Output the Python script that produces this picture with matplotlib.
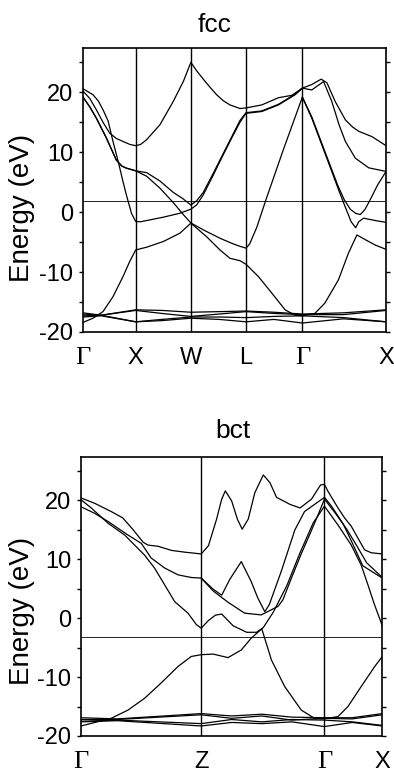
import matplotlib
matplotlib.use("Agg")
import matplotlib.pyplot as plt

plt.rcParams['font.family'] = ['Liberation Sans', 'DejaVu Sans']
plt.rcParams['axes.unicode_minus'] = False

# ---- fcc panel: k-path positions (fraction of path) and bands (s, E in eV)
fcc_kpos = [0.0, 0.174, 0.356, 0.538, 0.724, 1.0]
fcc_klabels = ['Γ', 'X', 'W', 'L', 'Γ', 'X']
fcc_fermi = 1.8

fcc_t = [(0, 20.2), (0.022, 19.0), (0.044, 17.1), (0.066, 15.0), (0.088, 13.2), (0.11, 12.3),
         (0.132, 11.8), (0.155, 11.3), (0.174, 11.1),
         (0.19, 11.3), (0.21, 12.1), (0.254, 14.6), (0.298, 18.5), (0.331, 21.8), (0.356, 25.0),
         (0.375, 23.6), (0.397, 22.2), (0.42, 20.8), (0.441, 19.6), (0.463, 18.6),
         (0.485, 17.9), (0.518, 17.3), (0.538, 17.4),
         (0.59, 17.9), (0.645, 19.1), (0.689, 19.5), (0.724, 20.7),
         (0.755, 21.3), (0.786, 22.2), (0.805, 21.6), (0.832, 18.5), (0.866, 15.4),
         (0.89, 14.2), (0.91, 13.5), (0.954, 12.6), (1.0, 11.1)]
fcc_q = [(0, 20.6), (0.033, 19.6), (0.05, 18.6), (0.066, 17.1), (0.083, 15.2), (0.099, 11.8),
         (0.116, 8.5), (0.132, 5.1), (0.143, 2.9), (0.16, -0.2), (0.174, -1.56), (0.19, -1.6),
         (0.265, -0.84), (0.32, -0.17), (0.356, 0.5), (0.375, 1.2), (0.397, 2.9),
         (0.43, 6.2), (0.46, 9.3), (0.49, 12.3), (0.518, 15.0), (0.538, 16.5),
         (0.59, 16.8), (0.645, 17.9), (0.7, 19.6), (0.724, 20.7), (0.755, 20.4),
         (0.794, 21.8), (0.821, 18.5), (0.845, 14.6), (0.866, 11.8), (0.899, 9.0),
         (0.943, 7.4), (1.0, 6.8)]
fcc_s = [(0, 19.2), (0.022, 17.6), (0.044, 15.7), (0.077, 12.4), (0.11, 8.7), (0.128, 7.7),
         (0.143, 7.35), (0.174, 6.9),
         (0.21, 6.6), (0.254, 5.2), (0.298, 3.3), (0.331, 2.2), (0.356, 1.2), (0.375, 1.9),
         (0.397, 3.3), (0.43, 6.5), (0.46, 9.5), (0.49, 12.5), (0.518, 15.3), (0.538, 16.6),
         (0.59, 16.9), (0.645, 18.0), (0.7, 19.7), (0.724, 20.7)]
fcc_r = [(0, 19.2), (0.022, 17.6), (0.044, 15.7), (0.077, 12.4), (0.11, 8.7), (0.128, 7.7),
         (0.143, 7.35), (0.174, 6.9),
         (0.21, 6.0), (0.254, 4.0), (0.298, 1.6), (0.331, -0.4), (0.356, -1.8),
         (0.397, -2.95), (0.452, -4.35), (0.496, -5.3), (0.518, -5.7), (0.538, -6.0),
         (0.55, -5.3), (0.573, -2.6), (0.606, 2.4), (0.661, 10.4), (0.724, 19.2),
         (0.755, 15.7), (0.788, 11.25), (0.821, 6.8), (0.843, 3.8), (0.866, 0.8),
         (0.885, -1.6), (0.9, -2.6), (0.91, -1.6), (0.926, -1.0), (0.965, -1.4), (1.0, -1.7)]
fcc_v = [(0.724, 19.2), (0.755, 15.9), (0.788, 11.5), (0.821, 7.1), (0.843, 4.2), (0.862, 2.1),
         (0.882, 0.5), (0.9, -0.2), (0.915, -0.4), (0.93, 0.4), (0.945, 1.8), (0.972, 4.5),
         (1.0, 6.8)]
fcc_p = [(0, -18.4), (0.033, -17.7), (0.066, -16.6), (0.099, -14.1), (0.132, -10.75),
         (0.154, -8.25), (0.174, -6.3), (0.21, -5.85), (0.265, -4.9), (0.32, -3.5),
         (0.356, -1.84), (0.408, -4.1), (0.452, -6.3), (0.485, -7.7), (0.518, -8.1),
         (0.538, -8.7), (0.556, -9.6), (0.579, -10.75), (0.623, -13.5), (0.667, -16.3),
         (0.7, -17.2), (0.724, -17.3), (0.765, -16.9), (0.798, -15.2), (0.843, -11.3),
         (0.876, -6.85), (0.904, -3.8), (0.932, -4.6), (0.965, -5.5), (1.0, -6.2)]
fcc_d1 = [(0, -16.8), (0.06, -17.2), (0.174, -16.3), (0.26, -16.4), (0.356, -16.7), (0.45, -16.6),
          (0.538, -16.5), (0.63, -16.7), (0.724, -17.0), (0.86, -16.8), (1.0, -16.3)]
fcc_d2 = [(0, -17.0), (0.06, -17.2), (0.174, -16.4), (0.26, -16.9), (0.356, -17.4), (0.45, -17.0),
          (0.538, -16.6), (0.63, -16.9), (0.724, -17.1), (0.86, -17.1), (1.0, -16.4)]
fcc_d3 = [(0, -17.3), (0.06, -17.2), (0.174, -18.3), (0.26, -17.9), (0.356, -17.5), (0.45, -17.5),
          (0.538, -17.6), (0.63, -17.4), (0.724, -17.3), (0.86, -17.6), (1.0, -18.3)]
fcc_d4 = [(0, -17.5), (0.06, -17.3), (0.174, -18.3), (0.26, -18.1), (0.356, -17.7), (0.45, -17.9),
          (0.538, -18.3), (0.63, -17.9), (0.724, -18.5), (0.86, -17.8), (1.0, -18.3)]
fcc_bands = [fcc_t, fcc_q, fcc_s, fcc_r, fcc_v, fcc_p, fcc_d1, fcc_d2, fcc_d3, fcc_d4]

# ---- bct panel
bct_kpos = [0.0, 0.399, 0.808, 1.0]
bct_klabels = ['Γ', 'Z', 'Γ', 'X']
bct_fermi = -3.15

bct_u = [(0, 20.4), (0.045, 19.5), (0.1, 18.1), (0.139, 17.0), (0.173, 15.0), (0.206, 12.9),
         (0.222, 12.4), (0.256, 12.2), (0.3, 11.5), (0.344, 11.2), (0.399, 10.9),
         (0.423, 12.3), (0.45, 16.8), (0.467, 20.2), (0.479, 21.6), (0.5, 19.9), (0.519, 16.8),
         (0.535, 15.1), (0.555, 16.8), (0.577, 21.3), (0.605, 24.3), (0.627, 23.0),
         (0.649, 20.5), (0.694, 19.3), (0.727, 18.7), (0.765, 20.2), (0.795, 22.6), (0.808, 22.7),
         (0.82, 21.5), (0.853, 18.7), (0.875, 17.0), (0.897, 15.6), (0.919, 13.6),
         (0.941, 11.6), (0.963, 11.1), (1.0, 10.9)]
bct_v = [(0, 18.9), (0.045, 17.8), (0.09, 16.4), (0.156, 14.1), (0.2, 12.7), (0.233, 10.2),
         (0.278, 8.5), (0.322, 7.35), (0.366, 6.9), (0.399, 6.8), (0.439, 4.9), (0.467, 3.9),
         (0.494, 6.6), (0.532, 9.6), (0.565, 6.2), (0.587, 3.4), (0.61, 1.1), (0.625, 2.3),
         (0.665, 8.0), (0.71, 15.0), (0.742, 18.1), (0.775, 19.3), (0.808, 20.5),
         (0.83, 19.1), (0.87, 16.0), (0.9, 12.8), (0.935, 8.9), (1.0, 6.8)]
bct_w = [(0.399, 6.8), (0.439, 4.6), (0.488, 2.7), (0.543, 0.85), (0.598, 0.55), (0.654, 2.0),
         (0.67, 3.1), (0.7, 7.0), (0.73, 10.8), (0.76, 14.3), (0.785, 17.3), (0.808, 20.2),
         (0.843, 17.9), (0.882, 15.1), (0.915, 12.3), (0.948, 9.4), (1.0, 6.9)]
bct_y = [(0, 20.1), (0.034, 18.7), (0.09, 16.1), (0.145, 14.1), (0.211, 10.7), (0.244, 8.5),
         (0.277, 5.7), (0.311, 2.8), (0.355, 0.85), (0.383, -1.1), (0.399, -1.7),
         (0.423, -0.4), (0.446, 0.5), (0.467, 0.7), (0.505, -1.3), (0.55, -2.4),
         (0.583, -2.4), (0.605, -1.6), (0.638, 1.0), (0.683, 5.5), (0.727, 11.1),
         (0.771, 16.2), (0.808, 19.0), (0.853, 15.8), (0.897, 12.4), (0.93, 9.0),
         (0.952, 5.7), (0.974, 2.3), (1.0, -1.3)]
bct_p = [(0, -18.3), (0.1, -17.0), (0.156, -15.6), (0.211, -13.6), (0.266, -11.0),
         (0.322, -8.2), (0.366, -6.5), (0.399, -6.2), (0.439, -6.1), (0.488, -6.7),
         (0.532, -5.4), (0.565, -3.4), (0.6, -1.8), (0.632, -7.1), (0.676, -11.6),
         (0.731, -15.6), (0.775, -17.0), (0.808, -17.1), (0.853, -16.7), (0.886, -15.0),
         (0.93, -11.6), (0.975, -8.2), (1.0, -6.5)]
bct_e1 = [(0, -16.9), (0.12, -17.1), (0.399, -16.2), (0.5, -16.6), (0.6, -16.3), (0.7, -16.8),
          (0.808, -16.9), (0.9, -16.9), (1.0, -16.2)]
bct_e2 = [(0, -17.2), (0.12, -17.2), (0.399, -16.4), (0.5, -17.0), (0.6, -16.6), (0.7, -17.3),
          (0.808, -17.0), (0.9, -17.1), (1.0, -16.4)]
bct_e3 = [(0, -17.5), (0.12, -17.3), (0.399, -17.9), (0.5, -17.2), (0.6, -17.6), (0.7, -17.2),
          (0.808, -17.3), (0.9, -17.6), (1.0, -18.2)]
bct_e4 = [(0, -17.6), (0.12, -17.4), (0.399, -18.3), (0.5, -17.7), (0.6, -17.9), (0.7, -17.6),
          (0.808, -18.4), (0.9, -17.7), (1.0, -18.3)]
bct_bands = [bct_u, bct_v, bct_w, bct_y, bct_p, bct_e1, bct_e2, bct_e3, bct_e4]

yticks = [-20, -10, 0, 10, 20]
yminor = [-15, -5, 5, 15, 25]


def draw_panel(ax, bands, kpos, klabels, fermi):
    for band in bands:
        s = [p[0] for p in band]
        e = [p[1] for p in band]
        ax.plot(s, e, color='black', lw=0.9, solid_joinstyle='round')
    ax.axhline(fermi, color='black', lw=0.6)
    for k in kpos[1:-1]:
        ax.axvline(k, color='black', lw=1.0)
    ax.set_xlim(kpos[0], kpos[-1])
    ax.set_ylim(-20, 27.4)
    ax.set_yticks(yticks)
    ax.set_yticks(yminor, minor=True)
    ax.set_xticks(kpos)
    ax.set_xticklabels(klabels)
    ax.tick_params(axis='x', length=0, pad=11, labelsize=17)
    ax.tick_params(axis='y', which='both', direction='out', right=True, length=3,
                   width=1, labelsize=17, pad=4)
    for lab in ax.get_xticklabels():
        if lab.get_text() == 'Γ':
            lab.set_fontfamily(['Liberation Serif', 'DejaVu Serif'])
            lab.set_fontsize(19)
    for sp in ax.spines.values():
        sp.set_linewidth(1.2)


fig = plt.figure(figsize=(3.94, 7.72), dpi=100)

ax1 = fig.add_axes([83 / 394, 1 - 332 / 772, 303 / 394, 284 / 772])
draw_panel(ax1, fcc_bands, fcc_kpos, fcc_klabels, fcc_fermi)
fig.text(215 / 394, 1 - 25 / 772, 'fcc', ha='center', va='center', fontsize=19)
fig.text(22 / 394, 1 - 208 / 772, 'Energy (eV)', rotation=90, ha='center', va='center',
         fontsize=20)

ax2 = fig.add_axes([81 / 394, 1 - 736 / 772, 301.3 / 394, 279.3 / 772])
draw_panel(ax2, bct_bands, bct_kpos, bct_klabels, bct_fermi)
fig.text(233 / 394, 1 - 431 / 772, 'bct', ha='center', va='center', fontsize=19)
fig.text(22 / 394, 1 - 611 / 772, 'Energy (eV)', rotation=90, ha='center', va='center',
         fontsize=20)

fig.savefig('out.png', dpi=100)
